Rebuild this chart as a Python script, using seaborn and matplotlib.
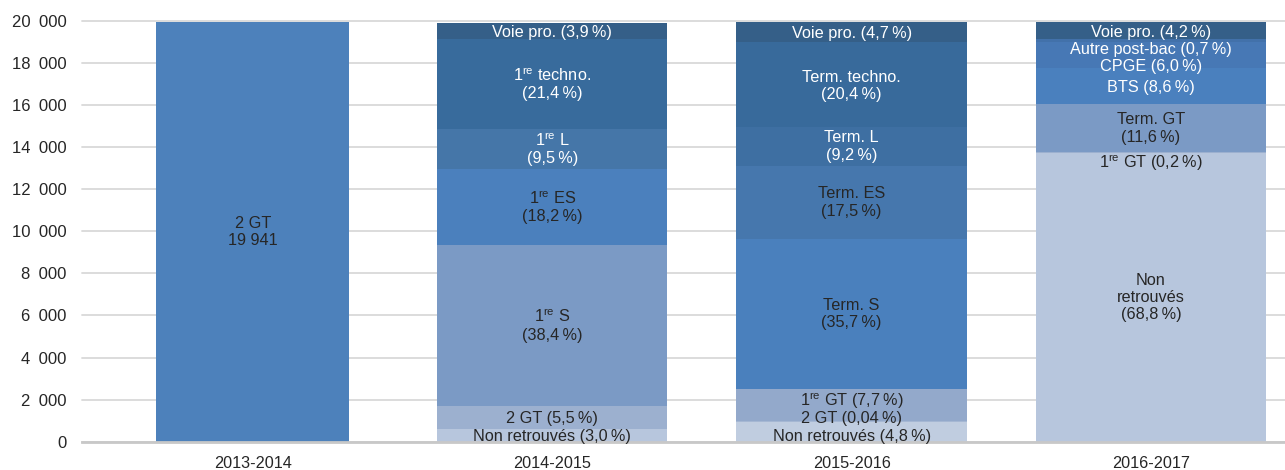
import matplotlib
matplotlib.use("Agg")
import matplotlib.pyplot as plt
import matplotlib.ticker as mticker
import seaborn as sns

# ---------------- data ----------------
years = ["2013-2014", "2014-2015", "2015-2016", "2016-2017"]
total = 19941

names_2014 = ["Non retrouvés", "2 GT", "1re S", "1re ES", "1re L", "1re techno.", "Voie pro."]
pct_2014 = [3.0, 5.5, 38.4, 18.2, 9.5, 21.4, 3.9]

names_2015 = ["Non retrouvés", "2 GT", "1re GT", "Term. S", "Term. ES", "Term. L", "Term. techno.", "Voie pro."]
pct_2015 = [4.8, 0.04, 7.7, 35.7, 17.5, 9.2, 20.4, 4.7]

names_2016 = ["Non retrouvés", "1re GT", "Term. GT", "BTS", "CPGE", "Autre post-bac", "Voie pro."]
pct_2016 = [68.8, 0.2, 11.6, 8.6, 6.0, 0.7, 4.2]

yticks = [0, 2000, 4000, 6000, 8000, 10000, 12000, 14000, 16000, 18000, 20000]

# ---------------- style ----------------
sns.set_theme(style="white")
plt.rcParams["font.family"] = ["Liberation Sans", "DejaVu Sans"]
plt.rcParams["mathtext.fontset"] = "custom"
plt.rcParams["mathtext.rm"] = "Liberation Sans"
plt.rcParams["mathtext.it"] = "Liberation Sans"

FS = 11.7
DARK = "#262626"
WHITE = "#ffffff"

# colors (bottom-up) per stacked year
colors_2014 = ["#b7c6dd", "#9cb0cf", "#7b9ac5", "#4b80bd", "#4576a8", "#386b9c", "#355f88"]
colors_2015 = ["#c0cde0", "#a5b7d3", "#93a9cb", "#4a80bd", "#4677ad", "#3e6fa2", "#386a9b", "#355f88"]
colors_2016 = ["#b7c6dd", "#9cb0cf", "#7b9ac5", "#4a80be", "#4778b5", "#4271aa", "#355f88"]

tcol_2014 = [DARK, DARK, DARK, DARK, WHITE, WHITE, WHITE]
tcol_2015 = [DARK, DARK, DARK, DARK, DARK, WHITE, WHITE, WHITE]
tcol_2016 = [DARK, DARK, DARK, WHITE, WHITE, WHITE, WHITE]

# label layout: two-line flag and vertical offset (points)
two_2014 = [False, False, True, True, True, True, False]
off_2014 = [-1, -1, 0, 0, 0, 0, -1]
two_2015 = [False, False, False, True, True, True, True, False]
off_2015 = [-3.5, 2, 3, 0, 0, 0, -1, -1]
two_2016 = [False, False, True, False, False, False, False]
off_2016 = [0, -7, -0.5, -1.5, -8, -6.5, -1]


def fmt_pct(v):
    s = f"{v:.2f}" if v < 0.1 else f"{v:.1f}"
    return s.replace(".", ",") + "\u2009%"


def fmt_name(n):
    if n.startswith("1re"):
        return "1$^{\\rm re}$" + n[3:]
    return n


fig = plt.figure(figsize=(12.85, 4.70), dpi=100)
ax = fig.add_axes([0.0638, 0.0602, 0.9362, 0.8951])

# first bar (single block)
ax.bar(0, total, width=0.645, color="#4d81bb", linewidth=0, zorder=2)
ax.text(0, total / 2, "2 GT\n" + f"{total:,}".replace(",", " "), ha="center",
        va="center", fontsize=FS, color=DARK, linespacing=1.2, zorder=6)

stacks = [
    (1, names_2014, pct_2014, colors_2014, tcol_2014, two_2014, off_2014),
    (2, names_2015, pct_2015, colors_2015, tcol_2015, two_2015, off_2015),
    (3, names_2016, pct_2016, colors_2016, tcol_2016, two_2016, off_2016),
]
for x, names, pcts, cols, tcols, twos, offs in stacks:
    bottom = 0.0
    for n, p, c, tc, two, off in zip(names, pcts, cols, tcols, twos, offs):
        h = total * p / 100.0
        ax.bar(x, h, bottom=bottom, width=0.77, color=c, linewidth=0, zorder=2)
        if n == "Non retrouvés" and p > 50:
            label = "Non\nretrouvés\n(" + fmt_pct(p) + ")"
        elif two:
            label = fmt_name(n) + "\n(" + fmt_pct(p) + ")"
        else:
            label = fmt_name(n) + " (" + fmt_pct(p) + ")"
        ax.annotate(label, xy=(x, bottom + h / 2), xytext=(0, off),
                    textcoords="offset points", ha="center", va="center",
                    fontsize=FS, color=tc, linespacing=1.2, zorder=6,
                    annotation_clip=False)
        bottom += h

ax.set_xlim(-0.571, 3.448)
ax.set_ylim(0, 20000)
ax.set_xticks(range(len(years)))
ax.set_xticklabels(years)
ax.set_yticks(yticks)
ax.yaxis.set_major_formatter(mticker.FuncFormatter(
    lambda v, p: f"{int(v):,}".replace(",", "\u2002")))
ax.tick_params(axis="y", length=0, pad=11, labelsize=12, labelcolor=DARK)
ax.tick_params(axis="x", length=0, pad=10, labelsize=FS, labelcolor=DARK)

ax.yaxis.grid(True, color="#d9d9d9", linewidth=1.3, zorder=0)
ax.set_axisbelow(True)
for s in ["left", "right", "top"]:
    ax.spines[s].set_visible(False)
ax.spines["bottom"].set_color("#c8c8c8")
ax.spines["bottom"].set_linewidth(2)
ax.spines["bottom"].set_zorder(4)
for gl in ax.yaxis.get_gridlines():
    gl.set_clip_on(False)

fig.savefig("out.png", dpi=100)
